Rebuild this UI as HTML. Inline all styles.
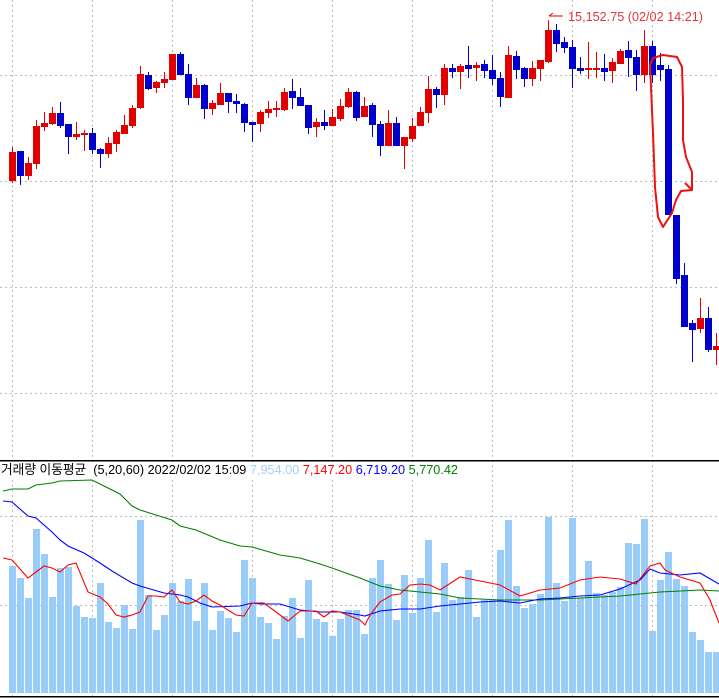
<!DOCTYPE html>
<html><head><meta charset="utf-8"><style>
html,body{margin:0;padding:0;background:#fff;width:719px;height:699px;overflow:hidden}
svg{display:block}
text{font-family:"Liberation Sans","Noto Sans CJK KR",sans-serif;font-size:13px}
</style></head><body>
<svg id="s" width="719" height="699" xmlns="http://www.w3.org/2000/svg"></svg>
<script>
var s=document.getElementById('s'),h='';
var gx=[12,92,172,252,332,412,492,572,652];
gx.forEach(function(x){h+='<line x1="'+(x+.5)+'" y1="0" x2="'+(x+.5)+'" y2="699" stroke="#bbb" stroke-dasharray="2,3"/>';});
[75,181,287,393,516,605].forEach(function(y){h+='<line x1="0" y1="'+(y+.5)+'" x2="719" y2="'+(y+.5)+'" stroke="#bbb" stroke-dasharray="2,3"/>';});
var C=[
['R',152,181,147,183],['B',151,176,151,185],['R',163,176,157,180],['R',126,164,120,169],['R',123,127,112,131],
['R',113,124,107,125],['B',113,126,102,128],['B',124,137,124,154],['R',134,137,122,140],['R',133,134,130,151],
['B',133,150,128,154],['B',149,154,148,168],['R',143,154,137,158],['R',132,144,130,152],['R',125,134,115,134],
['R',108,126,105,128],['R',74,108,66,109],['B',75,89,72,90],['R',82,88,81,93],['R',79,83,72,88],
['R',54,80,54,80],['B',54,75,52,75],['B',74,98,64,105],['R',85,98,78,98],['B',85,109,84,119],
['R',103,109,100,115],['R',93,105,83,105],['B',93,102,93,113],['B',101,104,94,113],['B',104,123,103,132],
['B',122,125,122,142],['R',112,124,110,132],['R',109,113,101,118],['R',108,110,101,117],['R',92,110,88,111],
['B',91,98,79,109],['B',97,106,88,106],['B',105,128,105,134],['R',122,127,118,137],['B',122,126,110,130],
['R',117,126,109,126],['R',106,119,99,121],['R',92,107,88,108],['B',92,118,91,121],
['R',106,117,97,117],['B',105,125,103,137],['B',124,146,121,156],['R',123,146,110,146],['B',123,146,117,146],
['R',137,146,137,169],['R',126,139,118,142],['R',112,126,107,126],['R',89,113,76,123],['B',89,95,87,108],
['R',68,95,64,105],['B',68,72,64,78],['R',66,72,64,89],['B',65,69,46,78],['R',65,68,62,81],
['B',64,71,60,78],['B',70,79,55,85],['B',78,97,72,107],['R',55,98,46,98],['B',56,70,51,79],
['B',68,79,67,87],['R',68,79,61,86],['R',60,69,60,81],['R',30,62,20,63],['B',30,44,24,52],
['B',42,48,37,53],['B',47,69,40,88],['B',68,71,57,74],['R',68,70,42,79],['R',68,69,52,78],
['B',68,72,54,81],['R',62,71,58,83],['R',51,64,49,64],['B',50,58,41,77],['B',57,75,50,91],
['R',46,75,30,83],['B',46,75,41,83],['B',65,70,53,81],['B',69,215,65,215],['B',215,279,215,284],
['B',275,327,263,327],['B',323,330,320,362],['R',318,329,298,333],['B',318,350,307,352],['R',346,350,333,365]];
C.forEach(function(c,i){var cx=12+8*i,col=c[0]=='R'?'#e00000':'#0000cc';
h+='<line x1="'+(cx+.5)+'" y1="'+c[3]+'" x2="'+(cx+.5)+'" y2="'+c[4]+'" stroke="'+col+'" stroke-width="1"/>';
h+='<rect x="'+(cx-3)+'" y="'+c[1]+'" width="7" height="'+Math.max(2,c[2]-c[1])+'" fill="'+col+'"/>';});
h+='<rect x="0" y="460" width="719" height="1.5" fill="#000"/>';
h+='<rect x="0" y="696" width="719" height="1.5" fill="#000"/>';
var V=[566,578,598,529,554,597,568,567,606,617,618,583,622,628,605,629,520,595,630,615,583,601,579,621,583,630,611,618,632,560,578,617,623,639,616,598,638,580,619,622,636,619,610,610,
634,578,560,584,620,575,613,578,540,612,563,600,597,570,617,600,600,550,520,586,608,604,594,517,583,601,518,598,561,593,595,592,587,543,544,519,631,580,552,579,586,632,640,652,652];
V.forEach(function(t,i){var cx=12+8*i;h+='<rect x="'+(cx-3)+'" y="'+t+'" width="7" height="'+(693-t)+'" fill="#99ccf8"/>';});
function pl(p,c){h+='<polyline fill="none" stroke="'+c+'" stroke-width="1.1" points="'+p+'"/>';}
pl("3,491 12,489 28,489 36,485 52,483 60,481 92,480 100,484 120,494 132,506 140,510 172,520 180,526 196,530 220,540 240,546 252,547 280,555 300,558 320,564 332,568 360,578 380,586 400,590 420,592 440,594 460,598 480,599 500,600 520,600 540,600 560,599 580,598 600,597 620,596 640,594 660,592 680,591 700,590 719,591","#008000");
pl("3,501 12,502 28,516 36,518 52,532 60,540 68,546 84,553 100,563 112,571 132,583 140,586 164,593 180,595 188,597 200,603 212,607 240,606 252,603 260,604 280,604 300,610 320,612 340,612 360,615 365,616 380,611 400,609 420,609 440,606 460,604 480,602 500,601 520,603 540,599 560,598 580,596 600,595 620,589 640,580 650,569 660,573 680,575 700,573 719,584","#0000ff");
pl("3,558 12,560 28,578 36,572 44,566 52,568 60,572 68,565 76,563 88,592 100,597 108,604 116,615 124,617 132,615 140,612 148,596 156,596 164,597 172,590 180,602 188,604 196,601 204,595 212,601 220,605 236,615 244,616 252,603 264,603 280,615 288,621 300,611 316,611 324,617 332,611 340,612 360,620 365,625 370,615 380,602 392,595 400,594 410,585 420,584 430,585 440,590 460,577 480,581 500,585 520,596 540,590 560,588 580,580 600,577 620,579 636,584 650,566 660,563 665,570 680,577 700,583 710,600 719,623","#ff0000");
h+='<rect x="0" y="462" width="462" height="16" fill="#fff"/>';
h+='<text x="1" y="474" textLength="457" lengthAdjust="spacingAndGlyphs"><tspan fill="#000">거래량 이동평균&#160;&#160;(5,20,60) 2022/02/02 15:09 </tspan><tspan fill="#a8cdf8">7,954.00 </tspan><tspan fill="#ff0000">7,147.20 </tspan><tspan fill="#0000ff">6,719.20 </tspan><tspan fill="#008000">5,770.42</tspan></text>';
h+='<line x1="549" y1="16" x2="563" y2="16" stroke="#e00000"/><line x1="549" y1="16" x2="553" y2="13" stroke="#e00000"/>';
h+='<text x="568" y="21" fill="#e03838" textLength="135" lengthAdjust="spacingAndGlyphs">15,152.75 (02/02 14:21)</text>';
h+='<path d="M685,183 L692,190 L692,172 L686,157 L683,140 L683,100 L682,67 L677,57 L663,55 L653,58 L650,65 L651,87 L653,133 L655,187 L658,217 L663,227 L672,213 L676,200 L681,191 L692,190" fill="none" stroke="#ee1111" stroke-width="2" stroke-linejoin="round"/>';
s.innerHTML=h;
</script>
</body></html>
